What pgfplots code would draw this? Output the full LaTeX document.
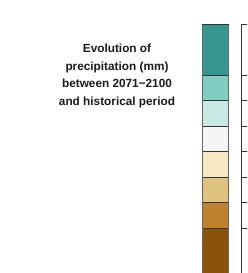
\documentclass[border=0pt]{standalone}
\usepackage{pgfplots}
\pgfplotsset{compat=1.18}
\usepackage{fontspec}
\setmainfont{Liberation Sans}
\definecolor{c1}{HTML}{35978F}
\definecolor{c2}{HTML}{80CDC1}
\definecolor{c3}{HTML}{C7EAE5}
\definecolor{c4}{HTML}{F5F5F5}
\definecolor{c5}{HTML}{F6E8C3}
\definecolor{c6}{HTML}{DFC27D}
\definecolor{c7}{HTML}{BF812D}
\definecolor{c8}{HTML}{8C510A}
\definecolor{edge}{HTML}{333333}
\definecolor{txt}{HTML}{1A1A1A}
\begin{document}
\begin{tikzpicture}
\begin{axis}[
  scale only axis, width=247pt, height=273pt,
  xmin=0, xmax=247, ymin=0, ymax=273, y dir=reverse,
  hide axis, clip=true,
]
% colour bar segments (x from 202.5 to 228.5)
\addplot[fill=c1, draw=edge, line width=0.8pt] coordinates {(202.5,24.5) (228.5,24.5) (228.5,75) (202.5,75)} -- cycle;
\addplot[fill=c2, draw=edge, line width=0.8pt] coordinates {(202.5,75) (228.5,75) (228.5,100.5) (202.5,100.5)} -- cycle;
\addplot[fill=c3, draw=edge, line width=0.8pt] coordinates {(202.5,100.5) (228.5,100.5) (228.5,126) (202.5,126)} -- cycle;
\addplot[fill=c4, draw=edge, line width=0.8pt] coordinates {(202.5,126) (228.5,126) (228.5,151.5) (202.5,151.5)} -- cycle;
\addplot[fill=c5, draw=edge, line width=0.8pt] coordinates {(202.5,151.5) (228.5,151.5) (228.5,177) (202.5,177)} -- cycle;
\addplot[fill=c6, draw=edge, line width=0.8pt] coordinates {(202.5,177) (228.5,177) (228.5,202.5) (202.5,202.5)} -- cycle;
\addplot[fill=c7, draw=edge, line width=0.8pt] coordinates {(202.5,202.5) (228.5,202.5) (228.5,228) (202.5,228)} -- cycle;
\addplot[fill=c8, draw=edge, line width=0.8pt] coordinates {(202.5,228) (228.5,228) (228.5,280) (202.5,280)} -- cycle;
% outer side edges
\addplot[draw=gray!80!black, line width=1.2pt] coordinates {(202.5,24.5) (202.5,280)};
\addplot[draw=gray!80!black, line width=1.2pt] coordinates {(228.5,24.5) (228.5,280)};
% second (white) column, cut at the right edge
\addplot[fill=white, draw=edge, line width=0.8pt] coordinates {(241.5,24.5) (262,24.5) (262,75) (241.5,75)} -- cycle;
\addplot[fill=white, draw=edge, line width=0.8pt] coordinates {(241.5,75) (262,75) (262,100.5) (241.5,100.5)} -- cycle;
\addplot[fill=white, draw=edge, line width=0.8pt] coordinates {(241.5,100.5) (262,100.5) (262,126) (241.5,126)} -- cycle;
\addplot[fill=white, draw=edge, line width=0.8pt] coordinates {(241.5,126) (262,126) (262,151.5) (241.5,151.5)} -- cycle;
\addplot[fill=white, draw=edge, line width=0.8pt] coordinates {(241.5,151.5) (262,151.5) (262,177) (241.5,177)} -- cycle;
\addplot[fill=white, draw=edge, line width=0.8pt] coordinates {(241.5,177) (262,177) (262,202.5) (241.5,202.5)} -- cycle;
\addplot[fill=white, draw=edge, line width=0.8pt] coordinates {(241.5,202.5) (262,202.5) (262,228) (241.5,228)} -- cycle;
\addplot[fill=white, draw=edge, line width=0.8pt] coordinates {(241.5,228) (262,228) (262,280) (241.5,280)} -- cycle;
\node[align=center, text=txt, font=\fontsize{11.8}{17.4}\selectfont\bfseries, anchor=center]
  at (axis cs:117,76) {Evolution of\\precipitation (mm)\\between 2071\textminus2100\\and historical period};
\end{axis}
\path[use as bounding box] (current axis.south west) rectangle (current axis.north east);
\end{tikzpicture}
\end{document}
